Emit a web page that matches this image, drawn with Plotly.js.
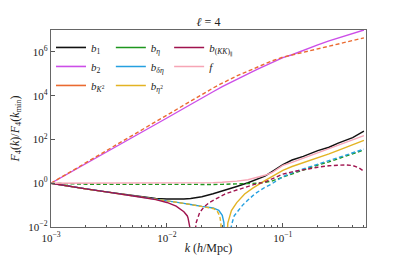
<!DOCTYPE html>
<html>
<head>
<meta charset="utf-8">
<script src="https://cdn.plot.ly/plotly-3.0.1.min.js"></script>
<style>html,body{margin:0;padding:0;background:#fff;}#chart{width:407px;height:255px;}</style>
</head>
<body>
<div id="chart"></div>
<script>
// ---- data ----
const kGrid = [0.001,0.0015,0.002,0.003,0.004,0.005,0.006,0.008,0.01,0.012,0.014,0.016,0.018,0.02,0.025,0.03,0.035,0.04,0.05,0.06,0.07,0.08,0.1,0.12,0.15,0.2,0.25,0.3,0.4,0.5];

const b1 = [1,0.69,0.55,0.40,0.324,0.275,0.24,0.204,0.19,0.186,0.19,0.2,0.214,0.24,0.33,0.437,0.56,0.71,1.05,1.55,2.1,3.3,7.1,11.5,17,31,44,68,122,240];
const b2 = [1,3.3,7.8,26,60,117,204,490,955,1660,2690,4070,5750,7940,15100,25700,39800,57500,1.0e5,1.58e5,2.29e5,3.16e5,5.5e5,7.4e5,1.2e6,2.09e6,3.16e6,4.27e6,6.76e6,1.0e7];
const bK2 = [1,3.55,8.7,31.6,79,158,282,692,1380,2400,3980,6030,8510,11700,22400,37200,56200,79400,1.32e5,2.04e5,2.88e5,3.8e5,5.75e5,7.24e5,1.0e6,1.41e6,1.86e6,2.34e6,3.31e6,4.37e6];
const bEta = [1,0.93,0.9,0.89,0.88,0.88,0.88,0.88,0.88,0.88,0.88,0.88,0.88,0.88,0.88,0.89,0.9,0.91,0.94,1.0,1.1,1.25,1.9,2.7,4.2,6.8,9.5,13,22,33];
const f = [1,1,1,1,1,1,1,1,1,1,1.01,1.02,1.02,1.03,1.06,1.1,1.15,1.25,1.45,1.8,2.3,3.0,6.5,9,14,26,38,55,95,150];

// b_{delta eta}: positive part (solid) and negative part (dashed, |value|)
const kDeltaEtaPos = [0.001,0.0015,0.002,0.003,0.004,0.005,0.006,0.008,0.01,0.012,0.014,0.016,0.018,0.02,0.025,0.028,0.03,0.031,0.0316];
const bDeltaEtaPos = [1,0.69,0.55,0.40,0.324,0.275,0.24,0.19,0.162,0.138,0.12,0.107,0.095,0.087,0.074,0.058,0.034,0.016,0.001];
const kDeltaEtaNeg = [0.0348,0.036,0.038,0.041,0.045,0.05,0.057,0.07,0.08,0.1,0.12,0.15,0.2,0.25,0.3,0.4,0.5];
const bDeltaEtaNeg = [0.001,0.012,0.032,0.056,0.1,0.17,0.32,0.65,0.93,2.0,3.0,4.5,7.5,11,15,24,36];

// b_{eta^2}: negative part (dashed) then positive part (solid)
const kEta2Neg = [0.001,0.0015,0.002,0.003,0.004,0.005,0.006,0.008,0.01,0.012,0.014,0.016,0.018,0.02,0.025,0.027,0.0285,0.0292,0.0297];
const bEta2Neg = [1,0.69,0.55,0.40,0.324,0.275,0.24,0.19,0.162,0.138,0.12,0.106,0.093,0.083,0.07,0.056,0.033,0.015,0.001];
const kEta2Pos = [0.0326,0.0335,0.036,0.04,0.0468,0.055,0.07,0.08,0.1,0.12,0.15,0.2,0.25,0.3,0.4,0.5];
const bEta2Pos = [0.001,0.015,0.056,0.13,0.32,0.6,1.32,2.0,3.9,5.8,8.5,14.5,22,32,57,91];

// b_{(KK)_par}: positive part (solid) then negative part (dashed)
const kKKPos = [0.001,0.0015,0.002,0.003,0.004,0.005,0.006,0.008,0.01,0.012,0.013,0.014,0.015,0.0152,0.0158,0.0161];
const bKKPos = [1,0.69,0.55,0.40,0.324,0.275,0.229,0.178,0.132,0.089,0.068,0.05,0.032,0.026,0.009,0.001];
const kKKNeg = [0.0172,0.0178,0.0192,0.021,0.0234,0.0286,0.0316,0.038,0.0468,0.057,0.0697,0.085,0.1,0.12,0.15,0.2,0.25,0.3,0.35,0.4,0.45,0.5];
const bKKNeg = [0.001,0.015,0.047,0.085,0.135,0.23,0.32,0.45,0.66,0.88,1.12,1.8,2.6,3.3,4.2,5.4,6.3,6.9,6.9,6.4,5.2,3.5];

// labels
const names = {
  b1:'<i>b</i><sub>1</sub>', b2:'<i>b</i><sub>2</sub>', bK2:'<i>b</i><sub><i>K</i><sup>2</sup></sub>',
  bEta:'<i>b</i><sub><i>η</i></sub>', bDeltaEta:'<i>b</i><sub><i>δη</i></sub>', bEta2:'<i>b</i><sub><i>η</i><sup>2</sup></sub>',
  bKK:'<i>b</i><sub>(<i>KK</i>)<sub>∥</sub></sub>', f:'<i>f</i>'
};
const xTickVals = [0.001,0.01,0.1];
const xTickText = ['10<sup>−3</sup>','10<sup>−2</sup>','10<sup>−1</sup>'];
const yTickVals = [0.01,1,100,1e4,1e6];
const yTickText = ['10<sup>−2</sup>','10<sup>0</sup>','10<sup>2</sup>','10<sup>4</sup>','10<sup>6</sup>'];
const xMinor = [0.002,0.003,0.004,0.005,0.006,0.007,0.008,0.009,0.02,0.03,0.04,0.05,0.06,0.07,0.08,0.09,0.2,0.3,0.4,0.5];

// ---- styles ----
const C = {b1:'#111111', b2:'#cc4ee8', bK2:'#ea6a30', bEta:'#1e961e', bDeltaEta:'#25a0e0', bEta2:'#e3b323', bKK:'#a0134e', f:'#f6a5b5'};
const W = 1.4, DASH = '4px,2.5px';

function tr(x, y, color, dash){
  return {x:x, y:y, type:'scatter', mode:'lines', showlegend:false, hoverinfo:'skip',
    line:{color:color, width:W, dash:dash||'solid'}};
}
function leg(key, legendId){
  return {x:[null], y:[null], type:'scatter', mode:'lines', name:names[key], legend:legendId,
    line:{color:C[key], width:1.6}};
}

const data = [
  tr(kGrid, b1, C.b1),
  tr(kGrid, b2, C.b2),
  tr(kGrid, bK2, C.bK2, DASH),
  tr(kGrid, bEta, C.bEta, DASH),
  tr(kDeltaEtaPos, bDeltaEtaPos, C.bDeltaEta),
  tr(kDeltaEtaNeg, bDeltaEtaNeg, C.bDeltaEta, DASH),
  tr(kEta2Neg, bEta2Neg, C.bEta2, DASH),
  tr(kEta2Pos, bEta2Pos, C.bEta2),
  tr(kKKPos, bKKPos, C.bKK),
  tr(kKKNeg, bKKNeg, C.bKK, DASH),
  tr(kGrid, f, C.f),
  leg('b1','legend'), leg('b2','legend'), leg('bK2','legend'),
  leg('bEta','legend2'), leg('bDeltaEta','legend2'), leg('bEta2','legend2'),
  leg('bKK','legend3'), leg('f','legend3')
];

const axisCommon = {
  type:'log', showline:true, linecolor:'#666', linewidth:1.3, mirror:true,
  ticks:'inside', ticklen:4, tickwidth:1, tickcolor:'#555', showgrid:false, zeroline:false,
  tickmode:'array', tickfont:{size:11, color:'#222'}
};
const legCommon = {bgcolor:'rgba(0,0,0,0)', borderwidth:0, font:{size:11, color:'#222'},
  xanchor:'left', yanchor:'top', yref:'paper', xref:'paper', tracegroupgap:0, itemwidth:30};

const layout = {
  width:407, height:255,
  margin:{l:51, r:41, t:30, b:28},
  paper_bgcolor:'#fff', plot_bgcolor:'#fff',
  font:{family:'"Liberation Serif","DejaVu Serif",serif', size:11, color:'#222'},
  title:{text:'<i>ℓ</i> = 4', x:0.5, xref:'paper', xanchor:'center', y:0.915, yref:'container', yanchor:'middle', font:{size:12}},
  xaxis:Object.assign({}, axisCommon, {
    range:[-3,-0.283], tickvals:xTickVals, ticktext:xTickText,
    minor:{tickmode:'array', tickvals:xMinor, ticks:'inside', ticklen:2, tickcolor:'#555', showgrid:false},
    title:{text:'<i>k</i> (<i>h</i>/Mpc)', standoff:4, font:{size:12}}
  }),
  yaxis:Object.assign({}, axisCommon, {
    range:[-2,7], tickvals:yTickVals, ticktext:yTickText,
    title:{text:'<i>F</i><sub>4</sub>(<i>k</i>)/<i>F</i><sub>4</sub>(<i>k</i><sub>min</sub>)', standoff:6, font:{size:12}}
  }),
  legend:Object.assign({}, legCommon, {x:0.0, y:0.985}),
  legend2:Object.assign({}, legCommon, {x:0.19, y:0.985}),
  legend3:Object.assign({}, legCommon, {x:0.375, y:0.985}),
  showlegend:true
};

Plotly.newPlot('chart', data, layout, {displayModeBar:false, staticPlot:true});
</script>
</body>
</html>
